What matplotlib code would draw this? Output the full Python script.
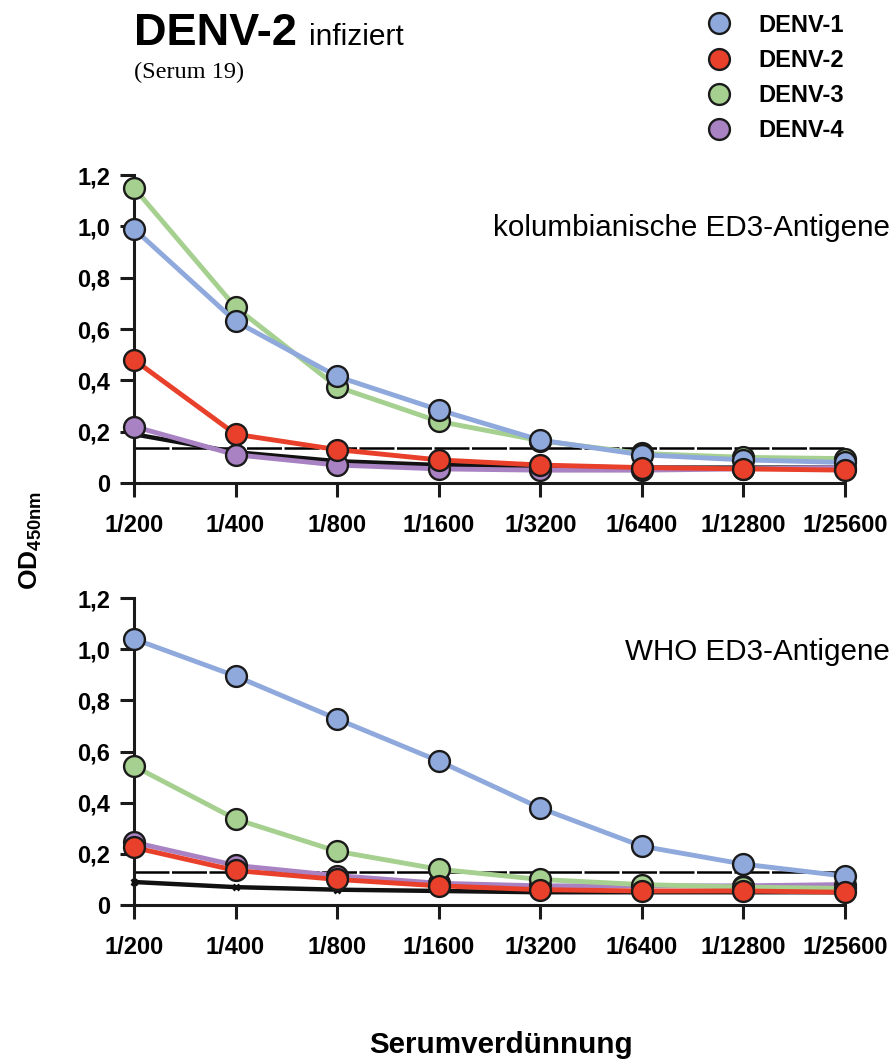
import matplotlib
matplotlib.use("Agg")
import matplotlib.pyplot as plt
from matplotlib.lines import Line2D

plt.rcParams['font.family'] = ['Liberation Sans', 'DejaVu Sans']
plt.rcParams['mathtext.fontset'] = 'custom'
plt.rcParams['mathtext.bf'] = 'Liberation Sans:bold'
plt.rcParams['mathtext.rm'] = 'Liberation Sans'

dilutions = ['1/200', '1/400', '1/800', '1/1600', '1/3200', '1/6400', '1/12800', '1/25600']
yticks = [0, 0.2, 0.4, 0.6, 0.8, 1.0, 1.2]
ytick_labels = ['0', '0,2', '0,4', '0,6', '0,8', '1,0', '1,2']

series = ['DENV-1', 'DENV-2', 'DENV-3', 'DENV-4']
colors = {'DENV-1': '#8fa9dc', 'DENV-2': '#e8402a', 'DENV-3': '#a6d08f', 'DENV-4': '#a882c2'}

# kolumbianische ED3-Antigene
col_d1 = [0.99, 0.63, 0.415, 0.285, 0.167, 0.11, 0.09, 0.08]
col_d2 = [0.48, 0.19, 0.13, 0.09, 0.07, 0.06, 0.055, 0.05]
col_d3 = [1.15, 0.685, 0.375, 0.24, 0.165, 0.115, 0.10, 0.095]
col_d4 = [0.22, 0.11, 0.07, 0.055, 0.05, 0.05, 0.055, 0.06]
col_neg = [0.19, 0.12, 0.085, 0.07, 0.065, 0.06, 0.06, 0.06]
col_cutoff = 0.136

# WHO ED3-Antigene
who_d1 = [1.04, 0.895, 0.727, 0.563, 0.379, 0.23, 0.16, 0.113]
who_d2 = [0.225, 0.135, 0.10, 0.075, 0.06, 0.055, 0.055, 0.05]
who_d3 = [0.543, 0.336, 0.21, 0.14, 0.10, 0.08, 0.07, 0.065]
who_d4 = [0.245, 0.155, 0.115, 0.085, 0.075, 0.075, 0.075, 0.08]
who_neg = [0.09, 0.07, 0.06, 0.055, 0.05, 0.05, 0.05, 0.05]
who_cutoff = 0.13


def panel(ax, d1, d2, d3, d4, neg, cutoff):
    x = range(len(dilutions))
    ax.plot([0, len(dilutions) - 1], [cutoff, cutoff], color='black', lw=1.8,
            ls=(0, (14, 1)), zorder=2, clip_on=False)
    ax.plot(x, neg, color='#111111', lw=3.2, marker='x', ms=5, mew=2, zorder=3, clip_on=False)
    order = [('DENV-4', d4), ('DENV-3', d3), ('DENV-1', d1), ('DENV-2', d2)]
    for i, (name, vals) in enumerate(order):
        ax.plot(x, vals, color=colors[name], lw=3.5, marker='o', ms=15,
                mfc=colors[name], mec='#1a1a1a', mew=1.7, zorder=4 + i, clip_on=False)
    ax.set_xlim(0, len(dilutions) - 1)
    ax.set_ylim(0, 1.2)
    ax.set_xticks(list(x))
    ax.set_xticklabels(dilutions)
    ax.set_yticks(yticks)
    ax.set_yticklabels(ytick_labels)
    for s in ['top', 'right']:
        ax.spines[s].set_visible(False)
    for s in ['left', 'bottom']:
        ax.spines[s].set_linewidth(2.2)
        ax.spines[s].set_color('#1a1a1a')
    ax.tick_params(length=10, width=2.2, color='#1a1a1a', labelsize=17)
    ax.tick_params(axis='x', pad=12)
    ax.tick_params(axis='y', pad=7)
    for t in ax.get_xticklabels() + ax.get_yticklabels():
        t.set_fontweight('bold')


fig = plt.figure(figsize=(8.95, 10.62), dpi=100)
ax1 = fig.add_axes([0.1497, 0.5452, 0.7944, 0.2900])
ax2 = fig.add_axes([0.1497, 0.1478, 0.7944, 0.2891])

panel(ax1, col_d1, col_d2, col_d3, col_d4, col_neg, col_cutoff)
panel(ax2, who_d1, who_d2, who_d3, who_d4, who_neg, who_cutoff)

fig.text(890 / 895, 1 - 228 / 1062, 'kolumbianische ED3-Antigene', ha='right', va='center', fontsize=21.3)
fig.text(890 / 895, 1 - 652 / 1062, 'WHO ED3-Antigene', ha='right', va='center', fontsize=21.3)

fig.text(134 / 895, 1 - 45 / 1062, 'DENV-2', ha='left', va='baseline', fontsize=32.5, fontweight='bold')
fig.text(309 / 895, 1 - 45 / 1062, 'infiziert', ha='left', va='baseline', fontsize=21.5)
fig.text(134 / 895, 1 - 78 / 1062, '(Serum 19)', ha='left', va='baseline', fontsize=17.5,
         family=['Liberation Serif', 'DejaVu Serif'])

fig.text(31 / 895, 1 - 540 / 1062, r'$\mathbf{OD}_{\mathbf{450nm}}$', rotation=90,
         ha='center', va='center', fontsize=19)
fig.text(501 / 895, 1 - 1045 / 1062, 'Serumverdünnung', ha='center', va='center',
         fontsize=21.3, fontweight='bold')

handles = [Line2D([], [], ls='none', marker='o', ms=15, mfc=colors[s], mec='#1a1a1a', mew=1.7)
           for s in series]
leg = fig.legend(handles, series, loc='upper left', bbox_to_anchor=(688 / 895, 1 + 3 / 1062),
                 frameon=False, fontsize=17, handletextpad=1.1, labelspacing=0.52,
                 handlelength=1.2, borderpad=0.2)
for t in leg.get_texts():
    t.set_fontweight('bold')

fig.savefig('out.png', dpi=100)
